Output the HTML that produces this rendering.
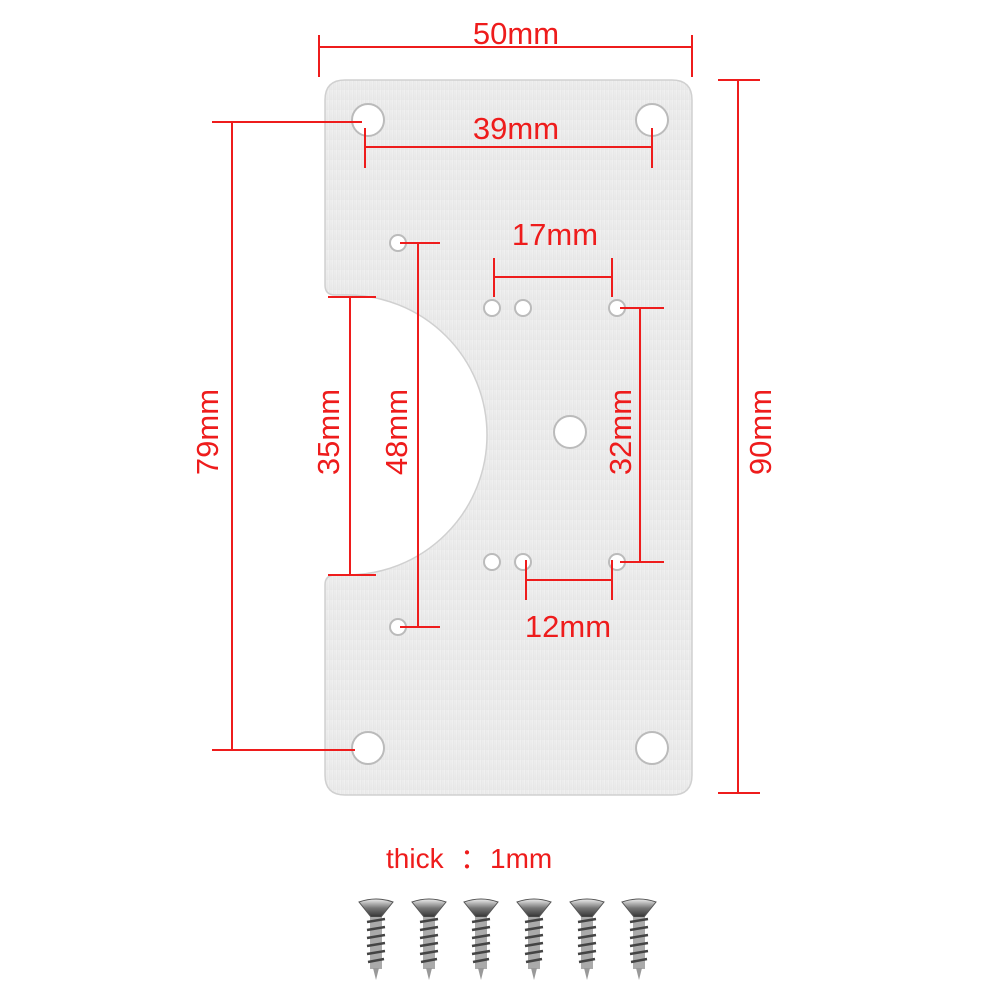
<!DOCTYPE html>
<html><head><meta charset="utf-8"><style>
html,body{margin:0;padding:0;background:#fff}
svg{display:block}
text{font-family:"Liberation Sans","Noto Sans CJK SC",sans-serif;fill:#ee1c1c;font-size:31px}
</style></head><body>
<svg width="1002" height="1002" viewBox="0 0 1002 1002" xmlns="http://www.w3.org/2000/svg">
<defs>
<linearGradient id="pl" x1="0" y1="0" x2="1" y2="1">
<stop offset="0" stop-color="#f1f1f1"/><stop offset="1" stop-color="#e6e6e6"/>
</linearGradient>
<pattern id="br" width="4" height="10" patternUnits="userSpaceOnUse">
<rect width="4" height="10" fill="url(#pl)"/><rect x="1" width="1" height="10" fill="#e4e4e4" opacity=".6"/>
</pattern>
<linearGradient id="hd" x1="0" y1="0" x2="0" y2="1">
<stop offset="0" stop-color="#eee"/><stop offset=".5" stop-color="#777"/><stop offset="1" stop-color="#333"/>
</linearGradient>
<g id="scr">
<path d="M-17,0 Q0,-6 17,0 L5,15 L-5,15 Z" fill="url(#hd)" stroke="#555" stroke-width="1"/>
<rect x="-6" y="15" width="12" height="52" fill="#aaa"/>
<g stroke="#444" stroke-width="2.5">
<line x1="-9" y1="20" x2="9" y2="17"/><line x1="-9" y1="28" x2="9" y2="25"/><line x1="-9" y1="36" x2="9" y2="33"/>
<line x1="-9" y1="44" x2="9" y2="41"/><line x1="-9" y1="52" x2="9" y2="49"/><line x1="-8" y1="60" x2="8" y2="57"/>
</g>
<path d="M-3,66 L0,78 L3,66 Z" fill="#999"/>
</g>
</defs>
<path d="M345,80 H672 Q692,80 692,100 V775 Q692,795 672,795 H345 Q325,795 325,775 V585 Q325,575 335,575 H347 A140,140 0 0 0 347,295 H335 Q325,295 325,285 V100 Q325,80 345,80 Z" fill="url(#br)" stroke="#d0d0d0" stroke-width="1.5"/>
<g fill="#fff" stroke="#bbb" stroke-width="2">
<circle cx="368" cy="120" r="16"/><circle cx="652" cy="120" r="16"/>
<circle cx="368" cy="748" r="16"/><circle cx="652" cy="748" r="16"/>
<circle cx="570" cy="432" r="16"/>
<circle cx="398" cy="243" r="8"/><circle cx="492" cy="308" r="8"/><circle cx="523" cy="308" r="8"/><circle cx="617" cy="308" r="8"/>
<circle cx="492" cy="562" r="8"/><circle cx="523" cy="562" r="8"/><circle cx="617" cy="562" r="8"/><circle cx="398" cy="627" r="8"/>
</g>
<g stroke="#ee1c1c" stroke-width="2" fill="none">
<path d="M319,47H692M319,35V77M692,35V77"/>
<path d="M365,147H652M365,128V168M652,128V168"/>
<path d="M494,277H612M494,258V297M612,258V297"/>
<path d="M526,580H612M526,560V600M612,560V600"/>
<path d="M232,122V750M212,122H362M212,750H355"/>
<path d="M350,297V575M328,297H376M328,575H376"/>
<path d="M418,243V627M400,243H440M400,627H440"/>
<path d="M640,308V562M620,308H664M620,562H664"/>
<path d="M738,80V793M718,80H760M718,793H760"/>
</g>
<text x="516" y="44" text-anchor="middle">50mm</text>
<text x="516" y="139" text-anchor="middle">39mm</text>
<text x="555" y="245" text-anchor="middle">17mm</text>
<text x="568" y="637" text-anchor="middle">12mm</text>
<text transform="translate(218,432) rotate(-90)" text-anchor="middle">79mm</text>
<text transform="translate(339,432) rotate(-90)" text-anchor="middle">35mm</text>
<text transform="translate(407,432) rotate(-90)" text-anchor="middle">48mm</text>
<text transform="translate(631,432) rotate(-90)" text-anchor="middle">32mm</text>
<text transform="translate(771,432) rotate(-90)" text-anchor="middle">90mm</text>
<text x="386" y="868" style="font-size:28px">thick</text>
<text x="460" y="868" style="font-size:28px">：</text>
<text x="490" y="868" style="font-size:28px">1mm</text>
<use href="#scr" x="376" y="902"/><use href="#scr" x="429" y="902"/><use href="#scr" x="481" y="902"/>
<use href="#scr" x="534" y="902"/><use href="#scr" x="587" y="902"/><use href="#scr" x="639" y="902"/>
</svg>
</body></html>
